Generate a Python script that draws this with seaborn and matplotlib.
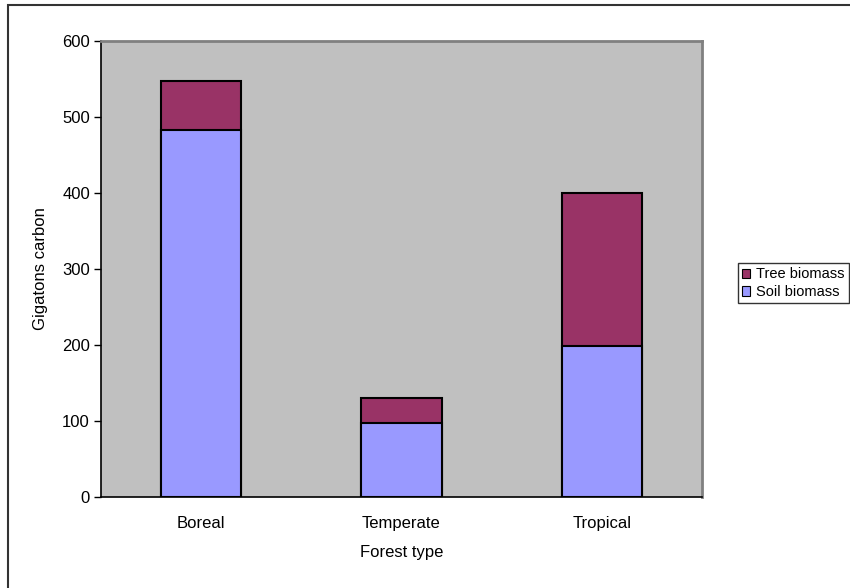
import pandas as pd
import matplotlib.pyplot as plt
import seaborn as sns
from matplotlib.patches import Patch, Rectangle

# Carbon stored per forest type (gigatons)
forest_types = ['Boreal', 'Temperate', 'Tropical']
soil_biomass = [483, 97, 199]
tree_biomass = [64, 33, 201]

df = pd.DataFrame({'Forest type': forest_types,
                   'Soil': soil_biomass,
                   'Tree': tree_biomass})
df['Total'] = df['Soil'] + df['Tree']

soil_color = '#9999FF'
tree_color = '#993366'

sns.set_style('white')
plt.rcParams['font.family'] = ['Liberation Sans', 'DejaVu Sans']
plt.rcParams['text.color'] = 'black'
plt.rcParams['axes.labelcolor'] = 'black'
plt.rcParams['xtick.color'] = 'black'
plt.rcParams['ytick.color'] = 'black'

fig = plt.figure(figsize=(8.5, 5.88), dpi=100)
ax = fig.add_axes([101 / 850, 1 - 497 / 588, 601 / 850, 456 / 588])
ax.set_facecolor('#C0C0C0')

# stacked bars: full height in tree colour, soil part drawn over it
sns.barplot(data=df, x='Forest type', y='Total', color=tree_color,
            saturation=1, width=0.4, edgecolor='black', linewidth=1.5, ax=ax)
sns.barplot(data=df, x='Forest type', y='Soil', color=soil_color,
            saturation=1, width=0.4, edgecolor='black', linewidth=1.5, ax=ax)

ax.set_ylim(0, 600)
ax.set_xlim(-0.5, 2.5)
ax.set_yticks(range(0, 601, 100))
ax.set_xticks([-0.5, 0.5, 1.5, 2.5], minor=True)
ax.tick_params(axis='x', which='major', length=0, labelsize=12, pad=14)
ax.tick_params(axis='x', which='minor', length=5, width=1, direction='out', color='black')
ax.tick_params(axis='y', length=5, width=1, direction='out', labelsize=12, color='black', pad=3)
ax.tick_params(left=True, which='major', axis='y')
ax.set_xlabel('Forest type', fontsize=12, labelpad=10)
ax.set_ylabel('Gigatons carbon', fontsize=12, labelpad=10)

for side in ['top', 'right']:
    ax.spines[side].set_color('#808080')
    ax.spines[side].set_linewidth(2)
for side in ['left', 'bottom']:
    ax.spines[side].set_color('black')
    ax.spines[side].set_linewidth(1.2)

handles = [Patch(facecolor=tree_color, edgecolor='black', linewidth=0.8, label='Tree biomass'),
           Patch(facecolor=soil_color, edgecolor='black', linewidth=0.8, label='Soil biomass')]
leg = fig.legend(handles=handles, loc='upper right', bbox_to_anchor=(849 / 850, 1 - 263 / 588),
                 fontsize=10.5, frameon=True, fancybox=False, handlelength=0.55, handleheight=0.6,
                 handletextpad=0.4, borderpad=0.3, labelspacing=0.25, borderaxespad=0)
leg.get_frame().set_edgecolor('black')
leg.get_frame().set_linewidth(1)

# outer chart frame (left and top edges visible)
fig.patches.append(Rectangle((8 / 850, -0.1), 1.2, 1 - 5 / 588 + 0.1, transform=fig.transFigure,
                             fill=False, edgecolor='#333333', linewidth=1.5))

fig.savefig('out.png', dpi=100)
